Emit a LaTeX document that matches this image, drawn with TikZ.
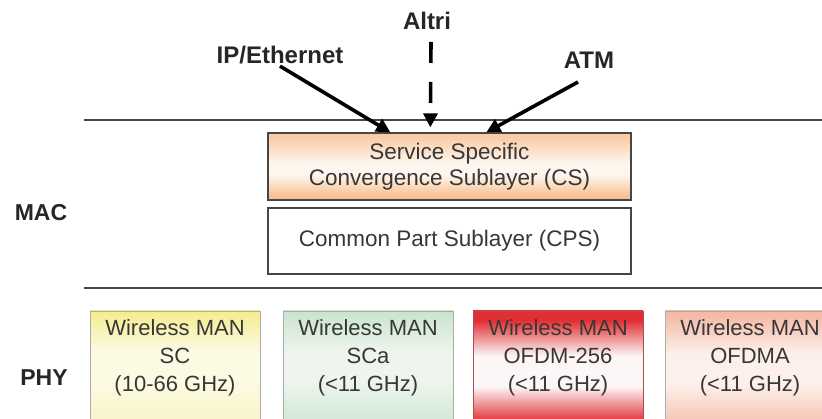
\documentclass[tikz,border=0pt]{standalone}
\usepackage{fontspec}
\setmainfont{Liberation Sans}
\usetikzlibrary{arrows.meta,calc}

\definecolor{txtgray}{RGB}{55,55,55}
\definecolor{rulegray}{RGB}{70,70,70}
\definecolor{csTop}{RGB}{249,204,166}
\definecolor{csMid}{RGB}{254,246,238}
\definecolor{csBot}{RGB}{247,192,146}
\definecolor{scTop}{RGB}{245,237,148}
\definecolor{scMid}{RGB}{252,250,226}
\definecolor{scBot}{RGB}{250,245,204}
\definecolor{scaTop}{RGB}{204,228,207}
\definecolor{scaMid}{RGB}{237,245,237}
\definecolor{scaBot}{RGB}{212,233,215}
\definecolor{ofTop}{RGB}{224,48,52}
\definecolor{ofMid}{RGB}{253,246,246}
\definecolor{ofBot}{RGB}{228,72,76}
\definecolor{omTop}{RGB}{245,186,168}
\definecolor{omMid}{RGB}{253,240,234}
\definecolor{omBot}{RGB}{246,202,186}

% vertical fills: 25bp = lower edge of a box, 75bp = upper edge
\pgfdeclareverticalshading{csfill}{100bp}{color(0bp)=(csBot); color(28bp)=(csBot);
  color(44bp)=(csMid); color(52bp)=(csMid); color(72bp)=(csTop); color(100bp)=(csTop)}
\pgfdeclareverticalshading{scfill}{100bp}{color(0bp)=(scBot); color(30bp)=(scBot);
  color(45bp)=(scMid); color(58bp)=(scMid); color(74bp)=(scTop); color(100bp)=(scTop)}
\pgfdeclareverticalshading{scafill}{100bp}{color(0bp)=(scaBot); color(30bp)=(scaBot);
  color(45bp)=(scaMid); color(58bp)=(scaMid); color(74bp)=(scaTop); color(100bp)=(scaTop)}
\pgfdeclareverticalshading{offill}{100bp}{color(0bp)=(ofBot); color(30bp)=(ofBot);
  color(43bp)=(ofMid); color(56bp)=(ofMid); color(71bp)=(ofTop); color(100bp)=(ofTop)}
\pgfdeclareverticalshading{omfill}{100bp}{color(0bp)=(omBot); color(30bp)=(omBot);
  color(44bp)=(omMid); color(57bp)=(omMid); color(73bp)=(omTop); color(100bp)=(omTop)}

\tikzset{
  sidelabel/.style={font=\fontsize{23}{26}\selectfont\bfseries, text=black!85, inner sep=2pt},
  toplabel/.style={font=\fontsize{24}{27}\selectfont\bfseries, text=black!85, inner sep=2pt},
  macbox/.style={draw=rulegray, line width=1.3pt, minimum width=363pt, align=center,
    text=txtgray, font=\fontsize{22.5}{26}\selectfont},
  phybox/.style={draw=gray!65, line width=0.8pt, minimum width=170pt, minimum height=118pt},
  phytext/.style={align=center, text=txtgray, font=\fontsize{22}{28}\selectfont, inner sep=0pt},
  layerrule/.style={draw=rulegray, line width=1.5pt},
  bigarrow/.style={line width=3.6pt, -{Triangle[length=14pt,width=14pt]}},
}

\begin{document}
\begin{tikzpicture}[x=1pt,y=1pt]
  % y grows upwards; the top edge of the picture is y=0
  \useasboundingbox (0,-419) rectangle (822,0);
  \clip (0,-419) rectangle (822,0);

  % layer separators
  \coordinate (r1a) at (84,-120);  \coordinate (r1b) at (822,-120);
  \coordinate (r2a) at (84,-288);  \coordinate (r2b) at (822,-288);
  \draw[layerrule] (r1a) -- (r1b);
  \draw[layerrule] (r2a) -- (r2b);

  % side labels
  \node[sidelabel] (mac) at (41,-213) {MAC};
  \node[sidelabel] (phy) at (44,-378) {PHY};

  % MAC sublayers
  \node[macbox, minimum height=67pt, shading=csfill]
    (cs) at (449.5,-166.5) {Service Specific\\[0pt]Convergence Sublayer (CS)};
  \node[macbox, minimum height=66pt, fill=white]
    (cps) at (449.5,-241) {Common Part Sublayer (CPS)};

  % PHY variants
  \node[phybox, shading=scfill] (b1) at (175,-370) {};
  \node[phybox, shading=scafill] (b2) at (368,-370) {};
  \node[phybox, shading=offill, draw=red!40!gray] (b3) at (558,-370) {};
  \node[phybox, shading=omfill] (b4) at (750,-370) {};

  \node[phytext] (t1) at (175,-358) {Wireless MAN\\SC\\(10-66 GHz)};
  \node[phytext] (t2) at (368,-358) {Wireless MAN\\SCa\\(<11 GHz)};
  \node[phytext] (t3) at (558,-358) {Wireless MAN\\OFDM-256\\(<11 GHz)};
  \node[phytext] (t4) at (750,-358) {Wireless MAN\\OFDMA\\(<11 GHz)};

  % upper-layer protocols
  \node[toplabel] (ip) at (280,-55) {IP/Ethernet};
  \node[toplabel] (alt) at (427,-21) {Altri};
  \node[toplabel] (atm) at (589,-60) {ATM};

  \coordinate (ipin)  at ($(cs.north west)+(123,0)$);
  \coordinate (altin) at ($(cs.north west)+(163,5)$);
  \coordinate (atmin) at ($(cs.north west)+(219,0)$);
  \coordinate (altout) at (431,-42);
  \coordinate (atmout) at (578,-82);

  \draw[bigarrow] (ip.south) -- (ipin);
  \draw[bigarrow] (atmout) -- (atmin);
  \draw[bigarrow, dash pattern=on 21pt off 19pt] (altout) -- (altin);
\end{tikzpicture}
\end{document}
